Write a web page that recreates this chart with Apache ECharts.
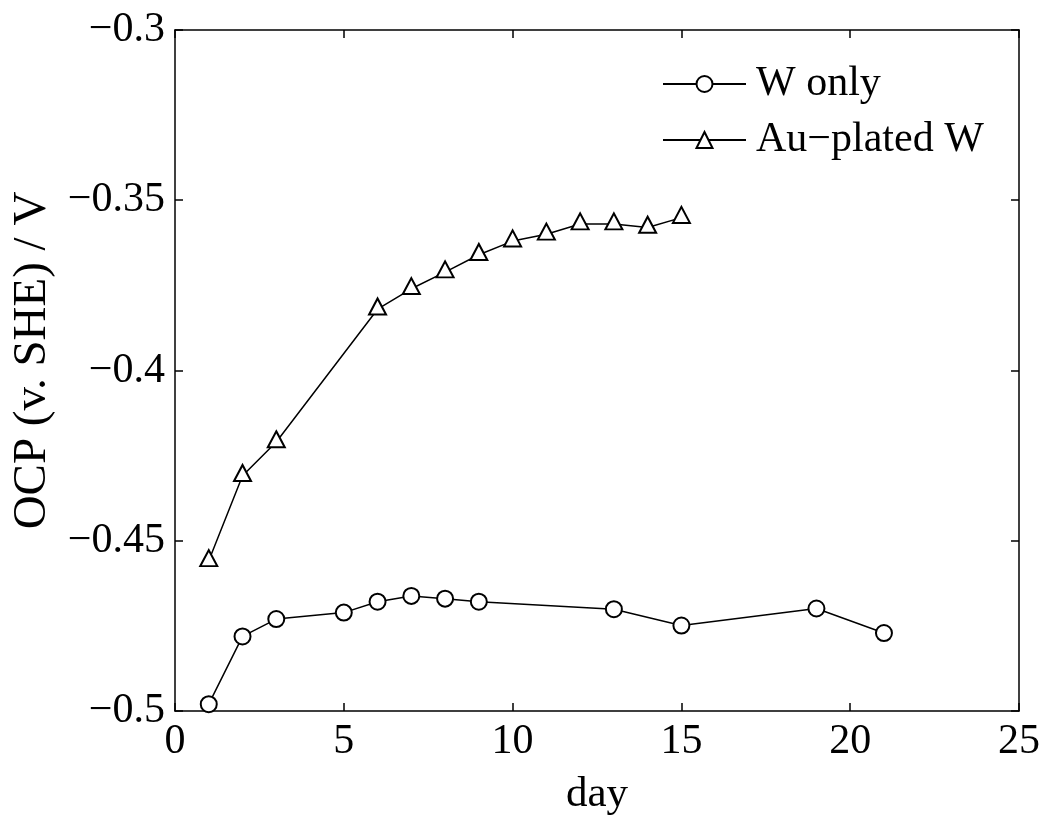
<!DOCTYPE html>
<html>
<head>
<meta charset="utf-8">
<script src="https://cdn.jsdelivr.net/npm/echarts@6/dist/echarts.min.js"></script>
<style>
html,body{margin:0;padding:0;background:#fff;}
#chart{width:1050px;height:821px;}
</style>
</head>
<body>
<div id="chart"></div>
<script>
const seriesNames = ['W only', 'Au\u2212plated W'];
const wOnlyDays = [1, 2, 3, 5, 6, 7, 8, 9, 13, 15, 19, 21];
const wOnlyOCP = [-0.4980, -0.4781, -0.4730, -0.4711, -0.4679, -0.4662, -0.4670, -0.4679, -0.4701, -0.4749, -0.4699, -0.4771];
const auDays = [1, 2, 3, 6, 7, 8, 9, 10, 11, 12, 13, 14, 15];
const auOCP = [-0.4559, -0.4309, -0.4210, -0.3820, -0.3760, -0.3711, -0.3660, -0.3620, -0.3600, -0.3570, -0.3570, -0.3580, -0.3551];
const xTitle = 'day';
const yTitle = 'OCP (v. SHE) / V';

const FONT = '"Liberation Serif", "Times New Roman", serif';
const chart = echarts.init(document.getElementById('chart'), null, {renderer: 'canvas'});

function pairs(xs, ys) { return xs.map((x, i) => [x, ys[i]]); }
const fmtY = v => String(+v.toFixed(4)).replace('-', '\u2212');

const axisLine = {show: true, onZero: false, lineStyle: {color: '#000', width: 1.5}};
const tick = {show: true, inside: true, length: 8, lineStyle: {color: '#000', width: 1.5}};

chart.setOption({
  animation: false,
  backgroundColor: '#fff',
  textStyle: {fontFamily: FONT},
  grid: {left: 175, right: 31, top: 30, bottom: 107, containLabel: false},
  legend: {
    left: 662, top: 63, orient: 'vertical', padding: 0,
    itemWidth: 83, itemHeight: 20, itemGap: 14,
    data: seriesNames,
    textStyle: {fontFamily: FONT, fontSize: 42, color: '#000', lineHeight: 42, padding: [0, 0, 0, 5]}
  },
  xAxis: [{
    type: 'value', min: 0, max: 25, interval: 5, position: 'bottom',
    name: xTitle, nameLocation: 'middle', nameGap: 62,
    nameTextStyle: {fontFamily: FONT, fontSize: 43, color: '#000'},
    axisLine: axisLine, axisTick: tick, splitLine: {show: false},
    axisLabel: {fontFamily: FONT, fontSize: 42, color: '#000', margin: 10}
  }, {
    type: 'value', min: 0, max: 25, interval: 5, position: 'top',
    axisLine: axisLine, axisTick: tick, splitLine: {show: false},
    axisLabel: {show: false}
  }],
  yAxis: [{
    type: 'value', min: -0.5, max: -0.3, interval: 0.05, position: 'left',
    name: yTitle, nameLocation: 'middle', nameGap: 119, nameRotate: 90,
    nameTextStyle: {fontFamily: FONT, fontSize: 47, color: '#000', padding: [0, 0, 0, 20]},
    axisLine: axisLine, axisTick: tick, splitLine: {show: false},
    axisLabel: {fontFamily: FONT, fontSize: 42, color: '#000', margin: 10, formatter: fmtY}
  }, {
    type: 'value', min: -0.5, max: -0.3, interval: 0.05, position: 'right',
    axisLine: axisLine, axisTick: tick, splitLine: {show: false},
    axisLabel: {show: false}
  }],
  series: [{
    name: seriesNames[0], type: 'line',
    data: pairs(wOnlyDays, wOnlyOCP),
    symbol: 'emptyCircle', symbolSize: 16,
    lineStyle: {color: '#000', width: 1.5},
    itemStyle: {color: '#000', borderColor: '#000', borderWidth: 1.5},
    emphasis: {disabled: true}
  }, {
    name: seriesNames[1], type: 'line',
    data: pairs(auDays, auOCP),
    symbol: 'emptyTriangle', symbolSize: [17, 16], symbolOffset: [0, -2.7],
    lineStyle: {color: '#000', width: 1.5},
    itemStyle: {color: '#000', borderColor: '#000', borderWidth: 1.5},
    emphasis: {disabled: true}
  }]
});
</script>
</body>
</html>
